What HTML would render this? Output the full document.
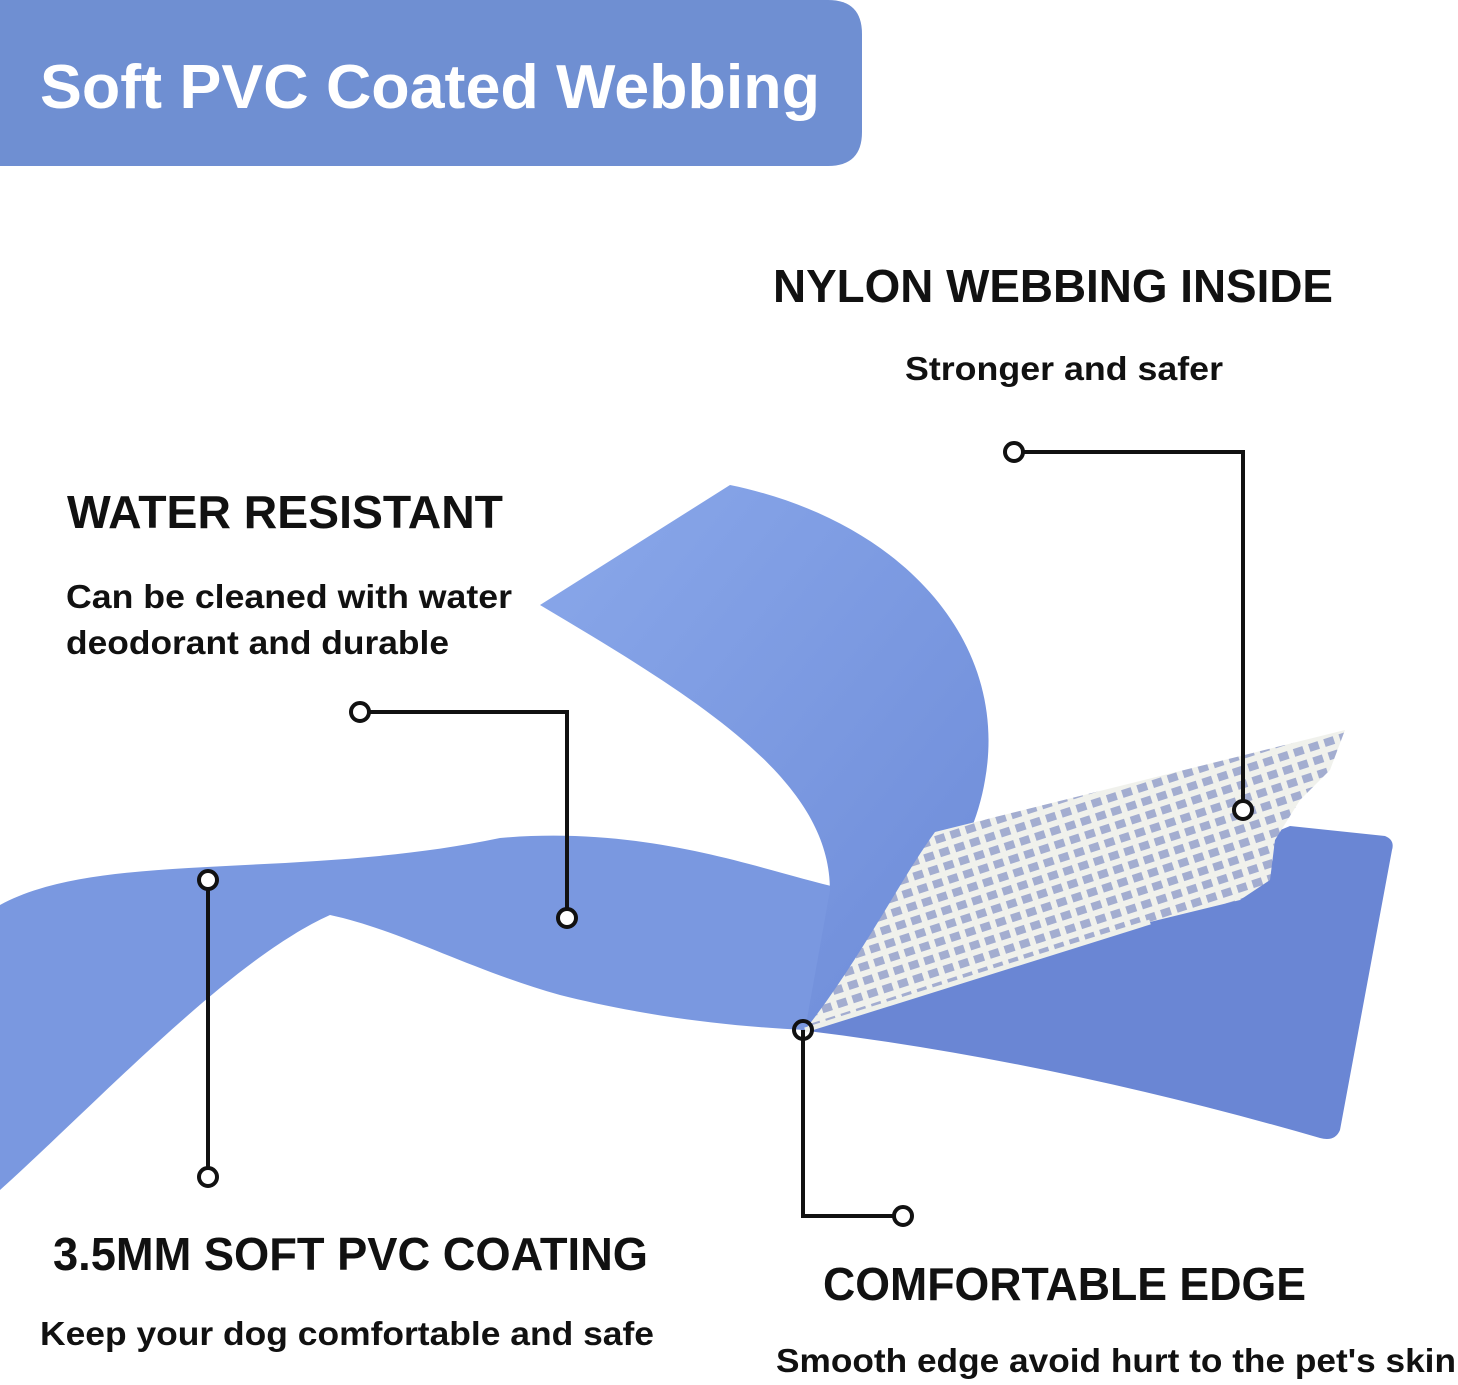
<!DOCTYPE html>
<html><head><meta charset="utf-8"><style>
html,body{margin:0;padding:0;background:#fff;}
svg{display:block;}
text{font-family:"Liberation Sans",sans-serif;font-weight:bold;fill:#111;}
</style></head><body>
<svg width="1458" height="1385" viewBox="0 0 1458 1385" xmlns="http://www.w3.org/2000/svg">
<defs>
<pattern id="mesh" width="16" height="14" patternUnits="userSpaceOnUse" patternTransform="rotate(-18)">
<rect width="16" height="14" fill="#a3add0"/>
<rect width="16" height="6" fill="#f0f1ec"/>
<rect width="6" height="14" fill="#f0f1ec"/>
</pattern>
<linearGradient id="flap" x1="0" y1="0" x2="1" y2="1">
<stop offset="0" stop-color="#8aa8ea"/><stop offset="1" stop-color="#6d8bd8"/>
</linearGradient>
</defs>
<path d="M0 0 H828 Q862 0 862 34 V132 Q862 166 828 166 H0 Z" fill="#6f8fd2"/>
<text x="40" y="108" font-size="62" fill="#fff" style="fill:#fff" textLength="780" lengthAdjust="spacingAndGlyphs">Soft PVC Coated Webbing</text>

<path d="M800 1030 L1290 826 L1385 836 Q1395 840 1392 850 L1340 1130 Q1335 1142 1320 1138 Q1050 1060 800 1030 Z" fill="#6a86d4"/>
<path d="M0 905 C100 850 300 880 500 838 C650 825 760 870 840 888 L805 1030 C700 1025 620 1010 560 995 C470 970 400 930 330 915 C230 960 100 1100 0 1190 Z" fill="#7a98e0"/>
<path d="M540 605 L730 485 C900 520 1010 640 985 780 C970 870 900 950 805 1030 L830 890 C830 780 700 700 540 605 Z" fill="url(#flap)"/>
<path d="M805 1030 C860 960 900 880 935 832 L1345 730 L1330 770 L1300 800 L1275 840 L1270 880 L1240 900 L1150 922 Z" fill="url(#mesh)"/>
<path d="M805 1030 L1150 922" stroke="#eef0ea" stroke-width="5"/>

<g fill="none" stroke="#111" stroke-width="4">
<polyline points="1014,452 1243,452 1243,810"/>
<polyline points="360,712 567,712 567,918"/>
<line x1="208" y1="880" x2="208" y2="1177"/>
<polyline points="803,1030 803,1216 903,1216"/>
</g>
<g fill="#fff" stroke="#111" stroke-width="4">
<circle cx="1014" cy="452" r="9"/><circle cx="1243" cy="810" r="9"/>
<circle cx="360" cy="712" r="9"/><circle cx="567" cy="918" r="9"/>
<circle cx="208" cy="880" r="9"/><circle cx="208" cy="1177" r="9"/>
<circle cx="803" cy="1030" r="9" fill="none"/><circle cx="903" cy="1216" r="9"/>
</g>

<text x="773" y="302" font-size="46" textLength="560" lengthAdjust="spacingAndGlyphs">NYLON WEBBING INSIDE</text>
<text x="905" y="380" font-size="33" textLength="318" lengthAdjust="spacingAndGlyphs">Stronger and safer</text>
<text x="67" y="528" font-size="46" textLength="436" lengthAdjust="spacingAndGlyphs">WATER RESISTANT</text>
<text x="66" y="608" font-size="33" textLength="446" lengthAdjust="spacingAndGlyphs">Can be cleaned with water</text>
<text x="66" y="654" font-size="33" textLength="383" lengthAdjust="spacingAndGlyphs">deodorant and durable</text>
<text x="53" y="1270" font-size="46" textLength="595" lengthAdjust="spacingAndGlyphs">3.5MM SOFT PVC COATING</text>
<text x="40" y="1345" font-size="33" textLength="614" lengthAdjust="spacingAndGlyphs">Keep your dog comfortable and safe</text>
<text x="823" y="1300" font-size="46" textLength="483" lengthAdjust="spacingAndGlyphs">COMFORTABLE EDGE</text>
<text x="776" y="1372" font-size="33" textLength="680" lengthAdjust="spacingAndGlyphs">Smooth edge avoid hurt to the pet's skin</text>
</svg>
</body></html>
